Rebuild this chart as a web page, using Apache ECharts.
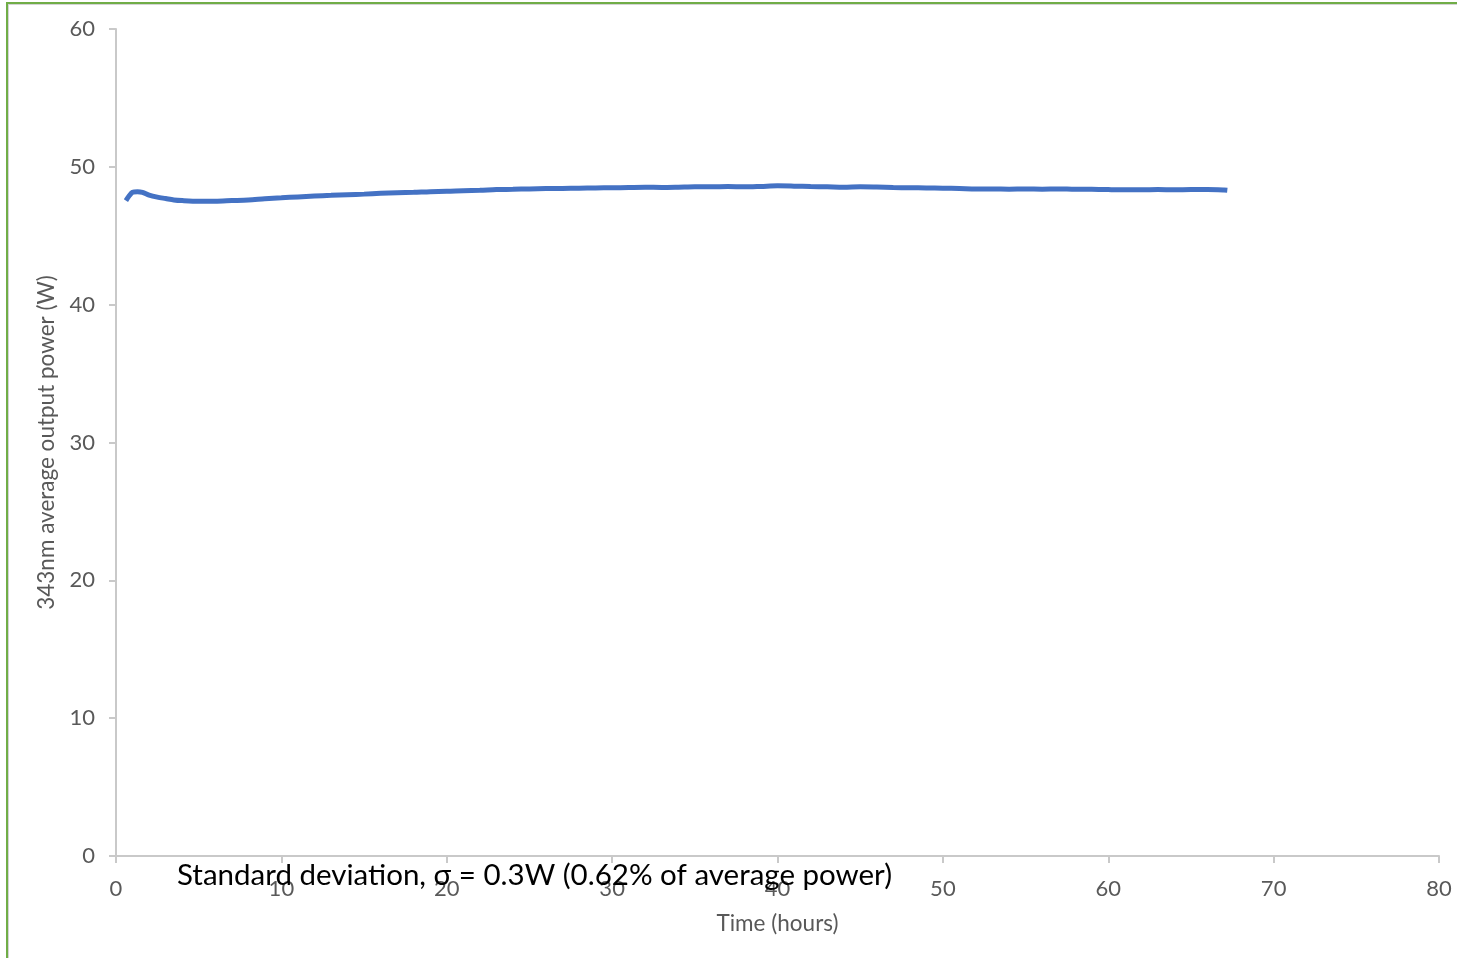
<!DOCTYPE html>
<html>
<head>
<meta charset="utf-8">
<title>343nm average output power vs time</title>
<script src="https://cdn.jsdelivr.net/npm/echarts@6/dist/echarts.min.js"></script>
<style>
  html, body { margin: 0; padding: 0; background: #ffffff; }
  #chart { position: absolute; left: 0; top: 0; width: 1457px; height: 958px; }
  .frame-outer { position: absolute; left: 6px; top: 2px; right: -10px; bottom: -10px;
                 border-left: 2px solid #70ad47; border-top: 2px solid #70ad47; pointer-events: none; }
  .frame-inner { position: absolute; left: 8px; top: 4px; right: -10px; bottom: -10px;
                 border-left: 1px solid #d4d4d4; border-top: 1px solid #d4d4d4; pointer-events: none; }
</style>
</head>
<body>
<div id="chart"></div>
<div class="frame-outer"></div>
<div class="frame-inner"></div>
<script>
// Measured 343 nm output power over the run
const hours = [
  0.6, 0.8, 1.0, 1.3, 1.6, 2.0, 2.5, 3.0, 3.5, 4.0,
  5, 6, 7, 8, 9, 10, 11, 12, 13, 14,
  15, 16, 17, 18, 19, 20, 21, 22, 23, 24,
  25, 26, 27, 28, 29, 30, 31, 32, 33, 34,
  35, 36, 37, 38, 39, 40, 41, 42, 43, 44,
  45, 46, 47, 48, 49, 50, 51, 52, 53, 54,
  55, 56, 57, 58, 59, 60, 61, 62, 63, 64,
  65, 66, 67, 67.2
];
const powerW = [
  47.55, 47.9, 48.15, 48.2, 48.15, 47.95, 47.8, 47.7, 47.6, 47.55,
  47.5, 47.5, 47.55, 47.6, 47.68, 47.75, 47.82, 47.88, 47.93, 47.98,
  48.02, 48.08, 48.12, 48.15, 48.2, 48.22, 48.27, 48.3, 48.35, 48.37,
  48.4, 48.42, 48.43, 48.45, 48.47, 48.48, 48.5, 48.52, 48.5, 48.52,
  48.55, 48.55, 48.57, 48.55, 48.58, 48.62, 48.6, 48.57, 48.55, 48.52,
  48.55, 48.53, 48.5, 48.48, 48.47, 48.45, 48.43, 48.4, 48.4, 48.38,
  48.4, 48.38, 48.4, 48.37, 48.38, 48.35, 48.33, 48.33, 48.35, 48.33,
  48.35, 48.35, 48.32, 48.3
];
const xTicks = [0, 10, 20, 30, 40, 50, 60, 70, 80];
const yTicks = [0, 10, 20, 30, 40, 50, 60];
const annotation = 'Standard deviation, \u03c3 = 0.3W (0.62% of average power)';

const points = hours.map((h, i) => [h, powerW[i]]);

const axisGray = '#c9c9c9';
const labelGray = '#595959';
const fontFamily = 'Lato, "Open Sans", sans-serif';

const chart = echarts.init(document.getElementById('chart'), null, { renderer: 'canvas' });
chart.setOption({
  animation: false,
  backgroundColor: 'transparent',
  grid: { left: 116, right: 18, top: 29, bottom: 102, containLabel: false },
  xAxis: {
    type: 'value',
    min: xTicks[0], max: xTicks[xTicks.length - 1], interval: 10,
    name: 'Time (hours)', nameLocation: 'middle', nameGap: 56,
    nameTextStyle: { color: labelGray, fontSize: 22.5, fontFamily },
    axisLine: { show: true, lineStyle: { color: axisGray, width: 2 } },
    axisTick: { show: true, length: 7, lineStyle: { color: axisGray, width: 2 } },
    axisLabel: { color: labelGray, fontSize: 22, fontFamily, margin: 22 },
    splitLine: { show: false }
  },
  yAxis: {
    type: 'value',
    min: yTicks[0], max: yTicks[yTicks.length - 1], interval: 10,
    name: '343nm average output power (W)', nameLocation: 'middle', nameGap: 55,
    nameTextStyle: { color: labelGray, fontSize: 22.5, fontFamily },
    axisLine: { show: true, lineStyle: { color: axisGray, width: 2 } },
    axisTick: { show: true, length: 7, lineStyle: { color: axisGray, width: 2 } },
    axisLabel: { color: labelGray, fontSize: 22, fontFamily, margin: 21 },
    splitLine: { show: false }
  },
  series: [{
    type: 'line',
    data: points,
    showSymbol: false,
    smooth: 0.3,
    lineStyle: { color: '#4472c4', width: 5 },
    z: 3
  }],
  graphic: [{
    type: 'text',
    left: 177,
    top: 860,
    style: {
      text: annotation,
      fill: '#000000',
      fontSize: 29.5,
      fontFamily
    },
    z: 10
  }]
});
</script>
</body>
</html>
